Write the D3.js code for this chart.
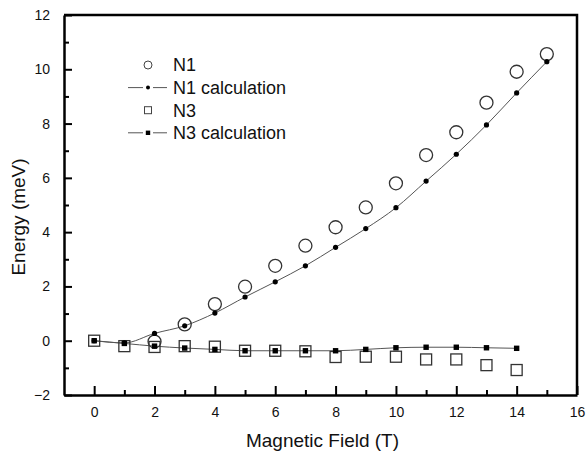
<!DOCTYPE html>
<html>
<head>
<meta charset="utf-8">
<script src="https://cdn.jsdelivr.net/npm/d3@7"></script>
<style>
  body { margin: 0; background: #fff; }
  svg text { font-family: "Liberation Sans", Arial, sans-serif; fill: #111; }
</style>
</head>
<body>
<div id="chart"></div>
<script>
// values
var n1Field = [2, 3, 4, 5, 6, 7, 8, 9, 10, 11, 12, 13, 14, 15];
var n1Energy = [-0.03, 0.6, 1.35, 1.99, 2.76, 3.5, 4.18, 4.91, 5.8, 6.84, 7.68, 8.77, 9.91, 10.56];

var n1CalcField = [0, 1, 2, 3, 4, 5, 6, 7, 8, 9, 10, 11, 12, 13, 14, 15];
var n1CalcEnergy = [0, -0.08, 0.27, 0.55, 1.02, 1.61, 2.17, 2.76, 3.44, 4.13, 4.9, 5.88, 6.87, 7.95, 9.13, 10.28];

var n3Field = [0, 1, 2, 3, 4, 5, 6, 7, 8, 9, 10, 11, 12, 13, 14];
var n3Energy = [0, -0.2, -0.23, -0.2, -0.22, -0.37, -0.37, -0.39, -0.6, -0.59, -0.59, -0.69, -0.69, -0.9, -1.08];

var n3CalcField = [0, 1, 2, 3, 4, 5, 6, 7, 8, 9, 10, 11, 12, 13, 14];
var n3CalcEnergy = [0, -0.1, -0.2, -0.27, -0.32, -0.37, -0.37, -0.37, -0.37, -0.32, -0.26, -0.24, -0.24, -0.26, -0.28];

var xMajor = [0, 2, 4, 6, 8, 10, 12, 14, 16];
var xMinorTicks = [1, 3, 5, 7, 9, 11, 13, 15];
var yMajor = [-2, 0, 2, 4, 6, 8, 10, 12];
var yMinorTicks = [-1, 1, 3, 5, 7, 9, 11];
var legendLabels = ["N1", "N1 calculation", "N3", "N3 calculation"];

function zip(xs, ys) {
  return xs.map(function (d, i) { return { x: d, y: ys[i] }; });
}

var totalW = 586, totalH = 455;
var margin = { top: 15, right: 9, bottom: 60, left: 64 };
var width = totalW - margin.left - margin.right,
  height = totalH - margin.top - margin.bottom;

var root = d3.select("#chart")
  .append("svg")
  .attr("width", totalW)
  .attr("height", totalH);

var svg = root.append("g")
  .attr("transform", "translate(" + margin.left + "," + margin.top + ")");

var x = d3.scaleLinear().domain([-1, 16]).range([0, width]);
var y = d3.scaleLinear().domain([-2, 12]).range([height, 0]);

// x axis: ticks point inward, labels below
var xAxis = svg.append("g")
  .attr("transform", "translate(0," + height + ")")
  .call(d3.axisBottom(x).tickValues(xMajor).tickSizeInner(-9).tickSizeOuter(0).tickPadding(12));
xAxis.selectAll("text").attr("font-size", 14);
xAxis.selectAll(".tick line").style("stroke", "#000").style("stroke-width", "2px");
xAxis.select(".domain").style("stroke", "#000").style("stroke-width", "2.5px");

var xMinor = svg.append("g")
  .attr("transform", "translate(0," + height + ")")
  .call(d3.axisBottom(x).tickValues(xMinorTicks).tickSizeInner(-5).tickSizeOuter(0).tickFormat(""));
xMinor.selectAll(".tick line").style("stroke", "#000").style("stroke-width", "2px");
xMinor.select(".domain").remove();

// y axis
var yAxis = svg.append("g")
  .call(d3.axisLeft(y).tickValues(yMajor).tickSizeInner(-8).tickSizeOuter(0).tickPadding(14));
yAxis.selectAll("text").attr("font-size", 14);
yAxis.selectAll(".tick line").style("stroke", "#000").style("stroke-width", "2px");
yAxis.select(".domain").style("stroke", "#000").style("stroke-width", "2.5px");

var yMinor = svg.append("g")
  .call(d3.axisLeft(y).tickValues(yMinorTicks).tickSizeInner(-5).tickSizeOuter(0).tickFormat(""));
yMinor.selectAll(".tick line").style("stroke", "#000").style("stroke-width", "2px");
yMinor.select(".domain").remove();

// top and right border
svg.append("path")
  .attr("d", "M0,0H" + width + "V" + height)
  .style("fill", "none")
  .style("stroke", "#000")
  .style("stroke-width", "2.5px");

// axis titles
svg.append("text")
  .attr("x", width / 2 + 2)
  .attr("y", height + 52)
  .attr("text-anchor", "middle")
  .attr("font-size", 19)
  .text("Magnetic Field (T)");

svg.append("text")
  .attr("transform", "translate(" + (25 - margin.left) + "," + (217 - margin.top) + ") rotate(-90)")
  .attr("text-anchor", "middle")
  .attr("font-size", 19)
  .text("Energy (meV)");

var line = d3.line()
  .x(function (d) { return x(d.x); })
  .y(function (d) { return y(d.y); })
  .curve(d3.curveMonotoneX);

var n1 = zip(n1Field, n1Energy);
var n1c = zip(n1CalcField, n1CalcEnergy);
var n3 = zip(n3Field, n3Energy);
var n3c = zip(n3CalcField, n3CalcEnergy);

// calculation lines
svg.append("path").datum(n1c)
  .attr("fill", "none").attr("stroke", "#555").attr("stroke-width", 1)
  .attr("d", line);
svg.append("path").datum(n3c)
  .attr("fill", "none").attr("stroke", "#555").attr("stroke-width", 1)
  .attr("d", line);

// N3 open squares
svg.selectAll(".n3").data(n3).enter().append("rect")
  .attr("x", function (d) { return x(d.x) - 5.5; })
  .attr("y", function (d) { return y(d.y) - 5.5; })
  .attr("width", 11).attr("height", 11)
  .attr("fill", "none").attr("stroke", "#333").attr("stroke-width", 1.3);

// N1 open circles
svg.selectAll(".n1").data(n1).enter().append("circle")
  .attr("cx", function (d) { return x(d.x); })
  .attr("cy", function (d) { return y(d.y); })
  .attr("r", 6.5)
  .attr("fill", "none").attr("stroke", "#333").attr("stroke-width", 1.3);

// N3 calc filled squares
svg.selectAll(".n3c").data(n3c).enter().append("rect")
  .attr("x", function (d) { return x(d.x) - 2.7; })
  .attr("y", function (d) { return y(d.y) - 2.7; })
  .attr("width", 5.4).attr("height", 5.4)
  .attr("fill", "#000");

// N1 calc dots
svg.selectAll(".n1c").data(n1c).enter().append("circle")
  .attr("cx", function (d) { return x(d.x); })
  .attr("cy", function (d) { return y(d.y); })
  .attr("r", 2.6)
  .attr("fill", "#000");

// legend
var legend = svg.append("g")
  .attr("transform", "translate(" + (148 - margin.left) + "," + (65 - margin.top) + ")");
var rowH = 22.6;

legendLabels.forEach(function (label, i) {
  var g = legend.append("g").attr("transform", "translate(0," + (i * rowH) + ")");
  if (i === 0) {
    g.append("circle").attr("r", 4).attr("fill", "none").attr("stroke", "#444").attr("stroke-width", 1);
  } else if (i === 2) {
    g.append("rect").attr("x", -3.5).attr("y", -3.5).attr("width", 7).attr("height", 7)
      .attr("fill", "none").attr("stroke", "#444").attr("stroke-width", 1);
  } else {
    g.append("path").attr("d", "M-20,0H-5M5,0H19").attr("stroke", "#555").attr("stroke-width", 1);
    if (i === 1) {
      g.append("circle").attr("r", 2).attr("fill", "#000");
    } else {
      g.append("rect").attr("x", -2.2).attr("y", -2.2).attr("width", 4.4).attr("height", 4.4).attr("fill", "#000");
    }
  }
  g.append("text")
    .attr("x", 25)
    .attr("dy", "0.36em")
    .attr("font-size", 18)
    .text(label);
});
</script>
</body>
</html>
